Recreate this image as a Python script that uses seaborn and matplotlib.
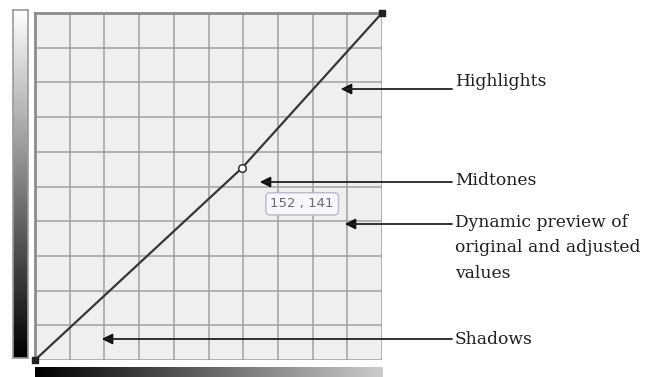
import numpy as np
import pandas as pd
import matplotlib.pyplot as plt
import seaborn as sns

# Tone curve data (input level vs output level)
curve_x = [0, 152, 255]
curve_y = [0, 141, 255]
node_x = [152]
node_y = [141]
end_x = [0, 255]
end_y = [0, 255]
tooltip = "152 , 141"
labels = ["Highlights", "Midtones", "Dynamic preview of\noriginal and adjusted\nvalues", "Shadows"]

W, H = 649, 377


def px(x, y):
    # image pixel (top-left origin) -> figure fraction
    return x / W, 1 - y / H


sns.set_theme(style="white")
fig = plt.figure(figsize=(W / 100, H / 100), dpi=100)
fig.patch.set_facecolor("white")

# main curve area
x0, y0 = px(35, 360)
x1, y1 = px(382, 13)
ax = fig.add_axes([x0, y0, x1 - x0, y1 - y0])
ax.set_facecolor("#efefef")
df = pd.DataFrame({"x": curve_x, "y": curve_y})
sns.lineplot(data=df, x="x", y="y", ax=ax, color="#363636", lw=1.6, zorder=3)
ax.scatter(end_x, end_y, marker="s", s=14, color="#222222", zorder=4, clip_on=False)
ax.scatter(node_x, node_y, marker="o", s=30, facecolor="white", edgecolor="#333333",
           lw=1.1, zorder=5)
ax.set_xlim(0, 255)
ax.set_ylim(0, 255)
ax.set_xticks(np.linspace(0, 255, 11))
ax.set_yticks(np.linspace(0, 255, 11))
ax.grid(True, color="#a0a0a0", lw=1.1)
ax.tick_params(length=0, labelbottom=False, labelleft=False)
ax.set_xlabel("")
ax.set_ylabel("")
for side in ["left", "top"]:
    ax.spines[side].set_color("#8c8c8c")
    ax.spines[side].set_linewidth(2.0)
for side in ["right", "bottom"]:
    ax.spines[side].set_visible(False)

# tooltip
ax.text(0.77, 0.45, tooltip, transform=ax.transAxes, fontsize=9.5, color="#6a6a78",
        family="DejaVu Sans", va="center", ha="center", zorder=6,
        bbox=dict(boxstyle="round,pad=0.35", facecolor="#f6f6fc", edgecolor="#b8b8c8", lw=1))

# left gradient bar (white -> black)
lx0, ly0 = px(13, 358)
lx1, ly1 = px(28, 10)
lax = fig.add_axes([lx0, ly0, lx1 - lx0, ly1 - ly0])
grad = np.linspace(1, 0, 256).reshape(-1, 1)
lax.imshow(grad, aspect="auto", cmap="gray", vmin=0, vmax=1)
lax.set_xticks([])
lax.set_yticks([])
for s in lax.spines.values():
    s.set_color("#9a9a9a")
    s.set_linewidth(1.2)

# bottom gradient bar (black -> light)
bx0, by0 = px(35, 377)
bx1, by1 = px(383, 367)
bax = fig.add_axes([bx0, by0, bx1 - bx0, by1 - by0])
bgrad = np.linspace(0, 0.8, 256).reshape(1, -1)
bax.imshow(bgrad, aspect="auto", cmap="gray", vmin=0, vmax=1)
bax.set_xticks([])
bax.set_yticks([])
for s in bax.spines.values():
    s.set_visible(False)

# callouts: arrow tip, line level, label top/center
tips = [(338, 89), (257, 182), (342, 224), (99, 339)]
text_y = [82, 181, 214, 340]
for lab, (tx, ty), ly in zip(labels, tips, text_y):
    fig.add_artist(plt.Line2D([px(tx + 8, ty)[0], px(452, ty)[0]],
                              [px(0, ty)[1], px(0, ty)[1]], color="#222222", lw=1.3))
    ax.annotate("", xy=px(tx, ty), xycoords="figure fraction",
                xytext=px(tx + 14, ty), textcoords="figure fraction",
                arrowprops=dict(arrowstyle="-|>", mutation_scale=16, color="#111111", lw=1.2),
                annotation_clip=False)
    fig.text(*px(455, ly), lab, fontsize=12.3, family="DejaVu Serif", color="#1e1e1e",
             va="top" if "\n" in lab else "center", ha="left", linespacing=1.65)

fig.savefig("out.png", dpi=100, facecolor="white")
